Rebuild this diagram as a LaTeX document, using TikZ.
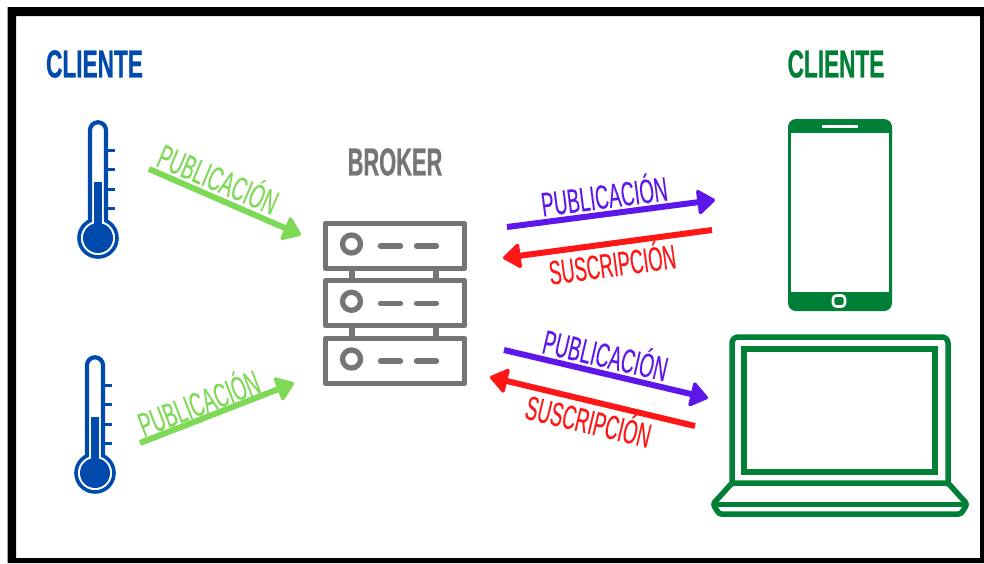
\documentclass[tikz,border=0pt]{standalone}
\usepackage{fontspec}
\usetikzlibrary{arrows.meta}
\setmainfont{Liberation Sans}
\newfontfamily\titlefont[FakeStretch=0.58,FakeBold=0.6]{Liberation Sans Bold}
\newfontfamily\brokerfont[FakeStretch=0.56,FakeBold=0.6]{Liberation Sans Bold}
\newfontfamily\labelfont[FakeStretch=0.55,FakeBold=0.15]{Liberation Sans}
\newfontfamily\sublabelfont[FakeStretch=0.54,FakeBold=0.15]{Liberation Sans}
\definecolor{cblue}{HTML}{004AAD}
\definecolor{cgreen}{HTML}{007F37}
\definecolor{cgrey}{HTML}{757575}
\definecolor{clime}{HTML}{7ED957}
\definecolor{cpurple}{HTML}{5E17EB}
\definecolor{cred}{HTML}{FF1616}
\tikzset{
  x=1pt,y=-1pt,
  titletext/.style={font=\titlefont\fontsize{39}{39}\selectfont,inner sep=0pt},
  brokertext/.style={font=\brokerfont\fontsize{39}{39}\selectfont,inner sep=0pt},
  flowlabel/.style={font=\labelfont\fontsize{34}{34}\selectfont,inner sep=0pt},
  sublabel/.style={font=\sublabelfont\fontsize{34}{34}\selectfont,inner sep=0pt},
  flow/.style={line width=6pt,-{Triangle[length=19pt,width=27pt,line width=3.5pt,round]}},
  srvline/.style={cgrey,line width=5.3pt},
  srvdash/.style={cgrey,line width=5.3pt,line cap=round},
  lapline/.style={cgreen,line width=5.5pt},
  thermo/.pic={
    \draw[cblue,line width=3.6pt,fill=white] (0,0) circle[radius=19];
    \fill[white] (-6,-24) rectangle (6,-14);
    \fill[cblue] (0,0) circle[radius=15];
    \fill[cblue] (-4,-56) rectangle (4,-5);
    \draw[cblue,line width=4.2pt] (-8,-17) -- (-8,-107.75) arc[start angle=180,end angle=360,radius=8] -- (8,-17);
    \draw[cblue,line width=3pt] (10,-88) -- (17,-88) (10,-68.5) -- (17,-68.5) (10,-49) -- (17,-49) (10,-30) -- (17,-30);
  },
  srvrow/.pic={
    \draw[srvline,line join=round] (0,0) rectangle (139,45);
    \draw[srvline] (26,20.5) circle[radius=9];
    \draw[srvdash] (55,22.5) -- (75,22.5) (91,22.5) -- (111,22.5);
  }
}
\begin{document}
\begin{tikzpicture}
\useasboundingbox (0,0) rectangle (984,563);
\fill[white] (0,0) rectangle (984,563);
\fill[black,even odd rule] (7.5,7) rectangle (984,563) (16,16) rectangle (980,558);

% titles
\node[titletext,text=cblue] (clienteA) at (94.5,64) {CLIENTE};
\node[titletext,text=cgreen] (clienteB) at (836,64) {CLIENTE};
\node[brokertext,text=cgrey] (brokerT) at (395,162) {BROKER};

% thermometers
\pic at (98,238) {thermo};
\pic at (95,473) {thermo};

% broker
\draw[srvline] (352,268) -- (352,281) (436,268) -- (436,281) (352,325) -- (352,339) (436,325) -- (436,339);
\pic at (325.5,223.5) {srvrow};
\pic at (325.5,280.8) {srvrow};
\pic at (325.5,338.5) {srvrow};

% phone
\fill[cgreen,rounded corners=8pt] (788,119) rectangle (892,311);
\fill[white] (791,133) rectangle (889,292);
\fill[white] (822,124.5) rectangle (858,128);
\draw[white,line width=2.6pt,rounded corners=3.5pt] (833,295.5) rectangle (845,306.5);

% laptop
\draw[lapline,rounded corners=6pt] (732,483) -- (732,337) -- (948,337) -- (948,483);
\draw[lapline] (744,349) rectangle (935,472);
\draw[lapline,line join=round,rounded corners=2.5pt] (732,483) -- (948,483) -- (967,504) -- (961,514) -- (719,514) -- (713,504) -- cycle;
\draw[lapline,line width=5pt] (716,504) -- (964,504);

% arrows
\coordinate (g1s) at (149,169); \coordinate (g1e) at (301,235);
\coordinate (g2s) at (140,443); \coordinate (g2e) at (294,383);
\coordinate (p1s) at (507,227); \coordinate (p1e) at (715,200);
\coordinate (r1s) at (712,230); \coordinate (r1e) at (503,258);
\coordinate (p2s) at (504,350); \coordinate (p2e) at (708,398);
\coordinate (r2s) at (695,426); \coordinate (r2e) at (490,377);
\draw[flow,clime] (g1s) -- (g1e);
\draw[flow,clime] (g2s) -- (g2e);
\draw[flow,cpurple] (p1s) -- (p1e);
\draw[flow,cred] (r1s) -- (r1e);
\draw[flow,cpurple] (p2s) -- (p2e);
\draw[flow,cred] (r2s) -- (r2e);

% labels
\node[flowlabel,text=clime,rotate=-23] (lg1) at (219,177) {PUBLICACIÓN};
\node[flowlabel,text=clime,rotate=21] (lg2) at (198,401) {PUBLICACIÓN};
\node[flowlabel,text=cpurple,rotate=7.4] (lp1) at (604,194) {PUBLICACIÓN};
\node[sublabel,text=cred,rotate=7.6] (lr1) at (612,262) {SUSCRIPCIÓN};
\node[flowlabel,text=cpurple,rotate=-13] (lp2) at (606,353) {PUBLICACIÓN};
\node[sublabel,text=cred,rotate=-13.4] (lr2) at (589,419) {SUSCRIPCIÓN};
\end{tikzpicture}
\end{document}
